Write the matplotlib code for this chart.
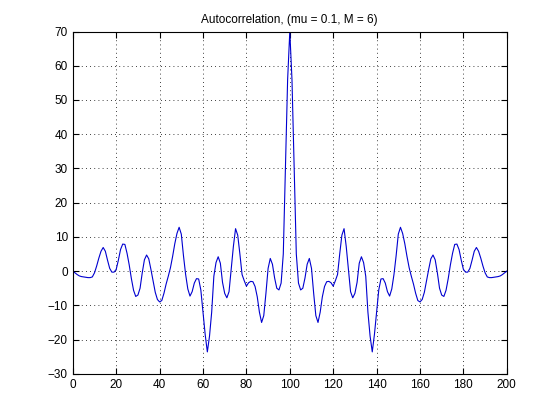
import numpy as np
import matplotlib.pyplot as plt

plt.rcParams['font.family'] = ['Liberation Sans', 'DejaVu Sans']

# lags (0..200) and autocorrelation values
lags = np.arange(201)
acorr = [
    0.0, -0.5, -1.0, -1.4, -1.6, -1.7, -1.8, -1.9, -1.9, -1.7,
    -0.5, 1.5, 3.8, 5.8, 6.9, 5.8, 3.2, 0.8, -0.3, -0.3,
    0.5, 3.2, 6.3, 7.9, 7.8, 5.2, 1.8, -2.2, -5.6, -7.4,
    -7.0, -5.0, -0.5, 3.3, 4.7, 3.6, 0.5, -2.8, -6.2, -8.3,
    -9.0, -8.6, -6.5, -3.8, -1.5, 1.0, 4.3, 8.0, 11.0, 12.8,
    10.8, 4.5, -1.0, -5.2, -7.3, -6.0, -3.5, -2.2, -2.3, -5.5,
    -12.0, -18.5, -23.6, -19.0, -12.0, -1.5, 2.5, 4.2, 2.3, -3.3,
    -6.5, -7.8, -6.0, 0.5, 7.2, 12.4, 10.5, 5.0, -1.0, -2.8,
    -4.4, -3.4, -3.0, -3.1, -4.5, -7.5, -12.0, -15.0, -13.0, -6.5,
    0.8, 3.7, 2.0, -2.0, -5.0, -5.5, -3.5, 5.0, 31.0, 56.0,
    70.0,
    56.0, 31.0, 5.0, -3.5, -5.5, -5.0, -2.0, 2.0, 3.7, 0.8,
    -6.5, -13.0, -15.0, -12.0, -7.5, -4.5, -3.1, -3.0, -3.4, -4.4,
    -2.8, -1.0, 5.0, 10.5, 12.4, 7.2, 0.5, -6.0, -7.8, -6.5,
    -3.3, 2.3, 4.2, 2.5, -1.5, -12.0, -19.0, -23.6, -18.5, -12.0,
    -5.5, -2.3, -2.2, -3.5, -6.0, -7.3, -5.2, -1.0, 4.5, 10.8,
    12.8, 11.0, 8.0, 4.3, 1.0, -1.5, -3.8, -6.5, -8.6, -9.0,
    -8.3, -6.2, -2.8, 0.5, 3.6, 4.7, 3.3, -0.5, -5.0, -7.0,
    -7.4, -5.6, -2.2, 1.8, 5.2, 7.8, 7.9, 6.3, 3.2, 0.5,
    -0.3, -0.3, 0.8, 3.2, 5.8, 6.9, 5.8, 3.8, 1.5, -0.5,
    -1.7, -1.9, -1.9, -1.8, -1.7, -1.6, -1.4, -1.0, -0.5, 0.0,
]

fig = plt.figure(figsize=(5.6, 4.2), dpi=100)
ax = fig.add_axes([0.13, 0.11, 0.775, 0.815])
ax.plot(lags, acorr, color='#0000d0', linewidth=0.8)

ax.set_xlim(0, 200)
ax.set_ylim(-30, 70)
ax.set_xticks(np.arange(0, 201, 20))
ax.set_yticks(np.arange(-30, 71, 10))
ax.grid(True, color='black', linestyle=(0, (1, 4)), linewidth=0.6)
ax.tick_params(direction='in', top=True, right=True, length=4, labelsize=8.5)
for s in ax.spines.values():
    s.set_linewidth(0.8)
ax.set_title('Autocorrelation, (mu = 0.1, M = 6)', fontsize=8.5)

fig.savefig('out.png', dpi=100)
